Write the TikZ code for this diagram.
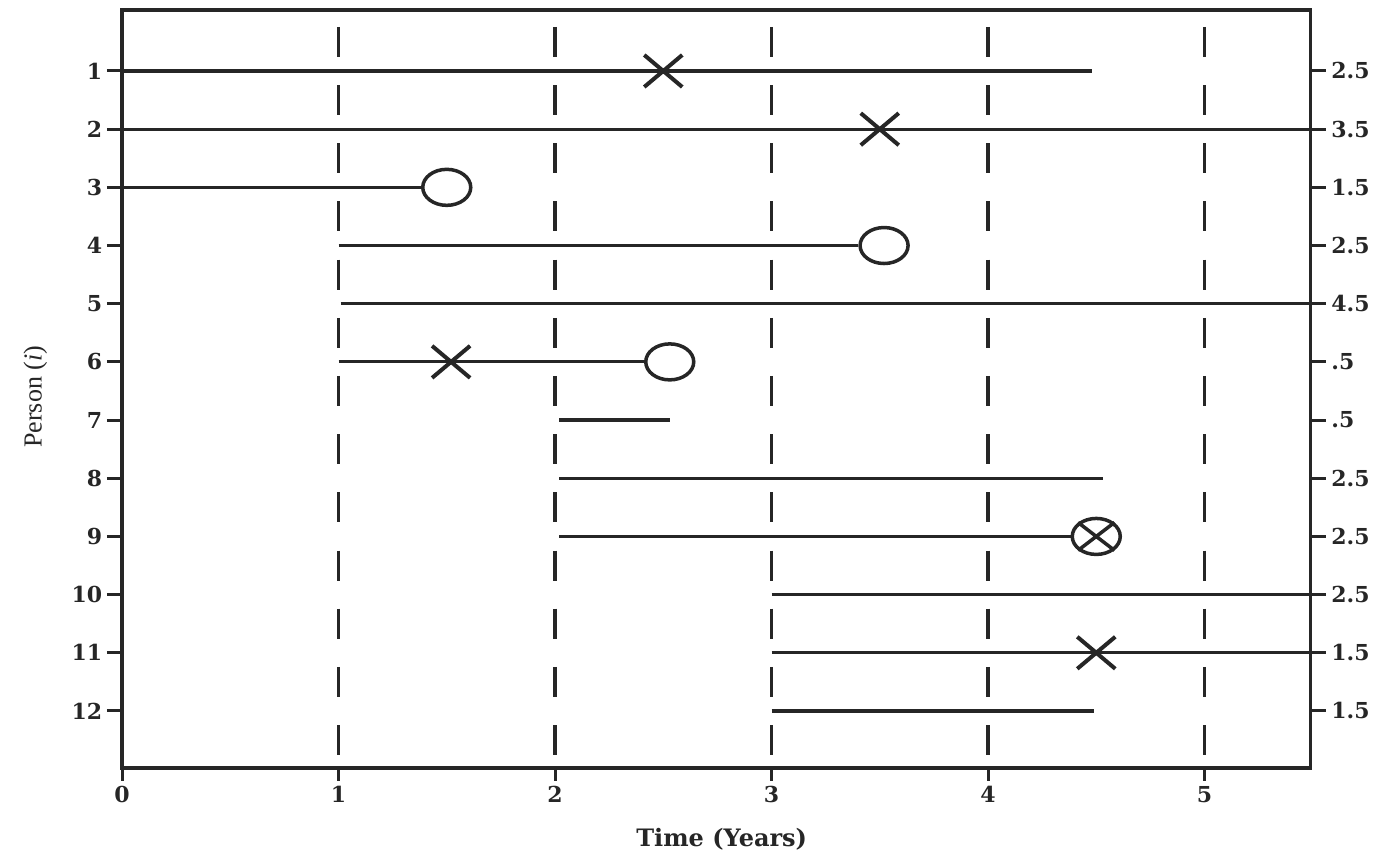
\documentclass[tikz,border=0pt]{standalone}
\usepackage{fontspec}
\setmainfont{Liberation Serif}
\newfontfamily\numfont{DejaVu Serif}
\usetikzlibrary{shapes.geometric,shapes.misc}
\begin{document}
\begin{tikzpicture}[x={(108.25pt,0pt)},y={(0pt,-29.09pt)},
  frame/.style={line width=1.75pt,draw=black!85},
  tick/.style={line width=1.5pt,draw=black!85},
  dataline/.style={line width=1.6pt,draw=black!85},
  vdash/.style={line width=1.6pt,draw=black!85,dash pattern=on 15pt off 14.09pt},
  lab/.style={font=\numfont\bfseries\fontsize{11}{13}\selectfont,text=black!85,inner sep=1pt},
  rlab/.style={font=\numfont\bfseries\fontsize{11}{13}\selectfont,text=black!85,inner sep=1pt,anchor=west},
  censor/.style={ellipse,draw=black!85,line width=1.75pt,fill=white,minimum width=24pt,minimum height=18pt,inner sep=0pt},
  event/.style={cross out,draw=black!85,line width=2pt,minimum width=17pt,minimum height=14pt,inner sep=0pt}]
\useasboundingbox (-0.5635,-0.22) rectangle (5.806,14.407);
% dashed year lines
\foreach \k in {1,...,5}{
  \coordinate (dt\k) at (\k,0.242);
  \coordinate (db\k) at (\k,12.76);
  \draw[vdash] (dt\k) -- (db\k);
}
% frame
\coordinate (tl) at (0,-0.05);
\coordinate (br) at (5.49,12.98);
\draw[frame] (tl) rectangle (br);
% left ticks and labels
\foreach \r in {1,...,12}{
  \coordinate (lt\r) at (-0.07,\r);
  \coordinate (la\r) at (0,\r);
  \draw[tick] (lt\r) -- (la\r);
  \node[lab,anchor=east] (ll\r) at (-0.08,\r) {\r};
}
% right ticks and labels
\foreach \r/\v in {1/2.5,2/3.5,3/1.5,4/2.5,5/4.5,6/.5,7/.5,8/2.5,9/2.5,10/2.5,11/1.5,12/1.5}{
  \coordinate (ra\r) at (5.49,\r);
  \coordinate (rt\r) at (5.56,\r);
  \draw[tick] (ra\r) -- (rt\r);
  \node[rlab] (rl\r) at (5.575,\r) {\v};
}
% bottom ticks and labels
\foreach \k in {0,...,5}{
  \coordinate (ba\k) at (\k,12.98);
  \coordinate (bt\k) at (\k,13.2);
  \draw[tick] (ba\k) -- (bt\k);
  \node[lab] (bl\k) at (\k,13.44) {\k};
}
\node[lab,font=\numfont\bfseries\fontsize{12}{14}\selectfont] (xlab) at (2.77,14.2) {Time (Years)};
\node[lab,rotate=90,font=\fontsize{13}{15}\selectfont] (ylab) at (-0.40,6.6) {Person (\textit{i})};
% data lines
\coordinate (s1) at (0,1);    \coordinate (e1) at (4.48,1);
\coordinate (s2) at (0,2);    \coordinate (e2) at (5.49,2);
\coordinate (s3) at (0,3);
\coordinate (s4) at (1.0,4);
\coordinate (s5) at (1.01,5); \coordinate (e5) at (5.49,5);
\coordinate (s6) at (1.0,6);
\coordinate (s7) at (2.02,7); \coordinate (e7) at (2.53,7);
\coordinate (s8) at (2.02,8); \coordinate (e8) at (4.53,8);
\coordinate (s9) at (2.02,9);
\coordinate (s10) at (3.0,10); \coordinate (e10) at (5.49,10);
\coordinate (s11) at (3.0,11); \coordinate (e11) at (5.49,11);
\coordinate (s12) at (3.0,12); \coordinate (e12) at (4.49,12);
\node[censor] (c3) at (1.5,3) {};
\node[censor] (c4) at (3.52,4) {};
\node[censor] (c6) at (2.53,6) {};
\node[censor] (c9) at (4.5,9) {};
\draw[dataline] (s1) -- (e1);
\draw[dataline] (s2) -- (e2);
\draw[dataline] (s3) -- (c3);
\draw[dataline] (s4) -- (c4);
\draw[dataline] (s5) -- (e5);
\draw[dataline] (s6) -- (c6);
\draw[dataline] (s7) -- (e7);
\draw[dataline] (s8) -- (e8);
\draw[dataline] (s9) -- (c9);
\draw[dataline] (s10) -- (e10);
\draw[dataline] (s11) -- (e11);
\draw[dataline] (s12) -- (e12);
\draw[line width=1.75pt,draw=black!85] (c9.north west) -- (c9.south east) (c9.north east) -- (c9.south west);
% event markers
\node[event] (x1) at (2.5,1) {};
\node[event] (x2) at (3.5,2) {};
\node[event] (x6) at (1.52,6) {};
\node[event] (x11) at (4.5,11) {};
\end{tikzpicture}
\end{document}
